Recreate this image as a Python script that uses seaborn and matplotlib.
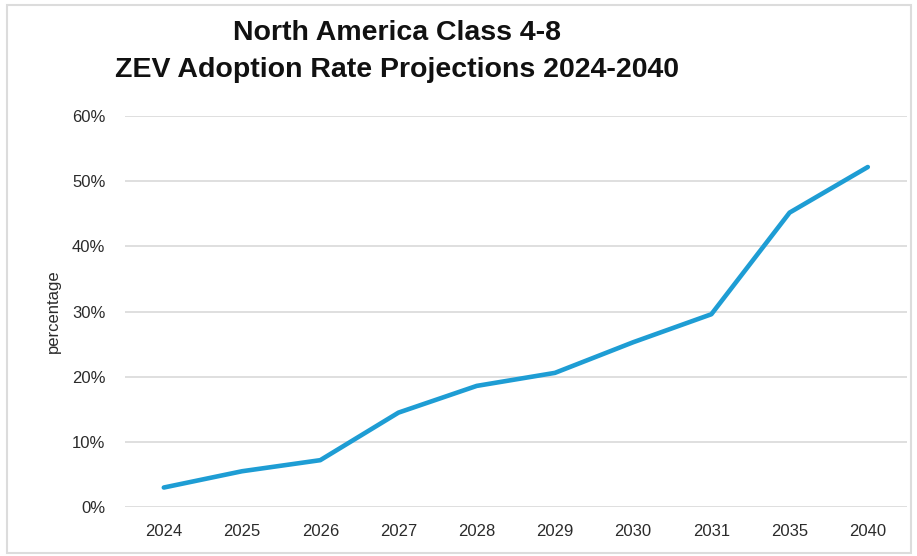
import matplotlib
matplotlib.use("Agg")
import matplotlib.pyplot as plt
import seaborn as sns
import pandas as pd
from matplotlib.patches import Rectangle
from matplotlib.ticker import FuncFormatter

years = ["2024", "2025", "2026", "2027", "2028", "2029", "2030", "2031", "2035", "2040"]
adoption = [3.0, 5.5, 7.2, 14.5, 18.6, 20.6, 25.3, 29.6, 45.2, 52.2]
yticks = [0, 10, 20, 30, 40, 50, 60]
title_lines = ["North America Class 4-8", "ZEV Adoption Rate Projections 2024-2040"]

sns.set_theme(style="white")
plt.rcParams['font.family'] = ['Liberation Sans', 'DejaVu Sans']

df = pd.DataFrame({"year": years, "rate": adoption})

fig = plt.figure(figsize=(9.17, 5.56), dpi=100)
ax = fig.add_axes([0.136, 0.088, 0.853, 0.703])
sns.lineplot(data=df, x="year", y="rate", ax=ax, color="#1e9dd4", linewidth=3.3, sort=False)

ax.set_xlim(-0.5, len(years) - 0.5)
ax.set_ylim(0, 60)
ax.set_yticks(yticks)
ax.yaxis.set_major_formatter(FuncFormatter(lambda v, p: f"{int(v)}%"))
ax.grid(axis="y", color="#d9d9d9", linewidth=1.2)
ax.set_axisbelow(True)
for s in ax.spines.values():
    s.set_visible(False)
ax.tick_params(axis="both", length=0, labelsize=12, colors="#2b2b2b")
ax.tick_params(axis="x", pad=12)
ax.tick_params(axis="y", pad=14)
ax.set_xlabel("")
ax.set_ylabel("percentage", fontsize=12, color="#2b2b2b", labelpad=8)

fig.text(397 / 917, 1 - 33 / 556, title_lines[0], ha="center", va="center",
         fontsize=20.5, fontweight="bold", color="#111111")
fig.text(397 / 917, 1 - 70 / 556, title_lines[1], ha="center", va="center",
         fontsize=20.5, fontweight="bold", color="#111111")

fig.patches.append(Rectangle((0.008, 0.006), 0.986, 0.985, transform=fig.transFigure,
                             fill=False, edgecolor="#dcdcdc", linewidth=1.5))

fig.savefig("out.png", dpi=100)
